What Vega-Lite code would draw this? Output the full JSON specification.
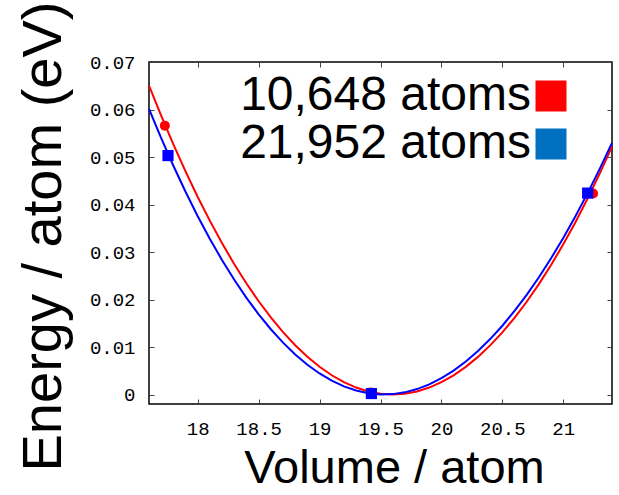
{
  "$schema": "https://vega.github.io/schema/vega-lite/v6.json",
  "autosize": {"type": "none"},
  "width": 463,
  "height": 342,
  "padding": {"left": 149, "top": 62, "right": 7, "bottom": 91},
  "background": "white",
  "datasets": {
    "curves": [
      {"series": "10,648 atoms", "volume": 17.6, "energy": 0.06505},
      {"series": "10,648 atoms", "volume": 17.7, "energy": 0.0587},
      {"series": "10,648 atoms", "volume": 17.8, "energy": 0.05267},
      {"series": "10,648 atoms", "volume": 17.9, "energy": 0.04697},
      {"series": "10,648 atoms", "volume": 18.0, "energy": 0.04159},
      {"series": "10,648 atoms", "volume": 18.1, "energy": 0.03655},
      {"series": "10,648 atoms", "volume": 18.2, "energy": 0.03183},
      {"series": "10,648 atoms", "volume": 18.3, "energy": 0.02744},
      {"series": "10,648 atoms", "volume": 18.4, "energy": 0.02337},
      {"series": "10,648 atoms", "volume": 18.5, "energy": 0.01963},
      {"series": "10,648 atoms", "volume": 18.6, "energy": 0.01622},
      {"series": "10,648 atoms", "volume": 18.7, "energy": 0.01314},
      {"series": "10,648 atoms", "volume": 18.8, "energy": 0.01038},
      {"series": "10,648 atoms", "volume": 18.9, "energy": 0.00794},
      {"series": "10,648 atoms", "volume": 19.0, "energy": 0.00583},
      {"series": "10,648 atoms", "volume": 19.1, "energy": 0.00405},
      {"series": "10,648 atoms", "volume": 19.2, "energy": 0.00259},
      {"series": "10,648 atoms", "volume": 19.3, "energy": 0.00146},
      {"series": "10,648 atoms", "volume": 19.4, "energy": 0.00065},
      {"series": "10,648 atoms", "volume": 19.5, "energy": 0.00016},
      {"series": "10,648 atoms", "volume": 19.6, "energy": 0.0},
      {"series": "10,648 atoms", "volume": 19.7, "energy": 0.00016},
      {"series": "10,648 atoms", "volume": 19.8, "energy": 0.00065},
      {"series": "10,648 atoms", "volume": 19.9, "energy": 0.00146},
      {"series": "10,648 atoms", "volume": 20.0, "energy": 0.00259},
      {"series": "10,648 atoms", "volume": 20.1, "energy": 0.00404},
      {"series": "10,648 atoms", "volume": 20.2, "energy": 0.00582},
      {"series": "10,648 atoms", "volume": 20.3, "energy": 0.00792},
      {"series": "10,648 atoms", "volume": 20.4, "energy": 0.01034},
      {"series": "10,648 atoms", "volume": 20.5, "energy": 0.01308},
      {"series": "10,648 atoms", "volume": 20.6, "energy": 0.01614},
      {"series": "10,648 atoms", "volume": 20.7, "energy": 0.01953},
      {"series": "10,648 atoms", "volume": 20.8, "energy": 0.02324},
      {"series": "10,648 atoms", "volume": 20.9, "energy": 0.02726},
      {"series": "10,648 atoms", "volume": 21.0, "energy": 0.03161},
      {"series": "10,648 atoms", "volume": 21.1, "energy": 0.03628},
      {"series": "10,648 atoms", "volume": 21.2, "energy": 0.04126},
      {"series": "10,648 atoms", "volume": 21.3, "energy": 0.04657},
      {"series": "10,648 atoms", "volume": 21.4, "energy": 0.0522},
      {"series": "21,952 atoms", "volume": 17.6, "energy": 0.06013},
      {"series": "21,952 atoms", "volume": 17.7, "energy": 0.05397},
      {"series": "21,952 atoms", "volume": 17.8, "energy": 0.04816},
      {"series": "21,952 atoms", "volume": 17.9, "energy": 0.04268},
      {"series": "21,952 atoms", "volume": 18.0, "energy": 0.03754},
      {"series": "21,952 atoms", "volume": 18.1, "energy": 0.03274},
      {"series": "21,952 atoms", "volume": 18.2, "energy": 0.02828},
      {"series": "21,952 atoms", "volume": 18.3, "energy": 0.02415},
      {"series": "21,952 atoms", "volume": 18.4, "energy": 0.02035},
      {"series": "21,952 atoms", "volume": 18.5, "energy": 0.01688},
      {"series": "21,952 atoms", "volume": 18.6, "energy": 0.01374},
      {"series": "21,952 atoms", "volume": 18.7, "energy": 0.01092},
      {"series": "21,952 atoms", "volume": 18.8, "energy": 0.00844},
      {"series": "21,952 atoms", "volume": 18.9, "energy": 0.00627},
      {"series": "21,952 atoms", "volume": 19.0, "energy": 0.00443},
      {"series": "21,952 atoms", "volume": 19.1, "energy": 0.00291},
      {"series": "21,952 atoms", "volume": 19.2, "energy": 0.00171},
      {"series": "21,952 atoms", "volume": 19.3, "energy": 0.00083},
      {"series": "21,952 atoms", "volume": 19.4, "energy": 0.00027},
      {"series": "21,952 atoms", "volume": 19.5, "energy": 0.00001},
      {"series": "21,952 atoms", "volume": 19.6, "energy": 0.00008},
      {"series": "21,952 atoms", "volume": 19.7, "energy": 0.00045},
      {"series": "21,952 atoms", "volume": 19.8, "energy": 0.00114},
      {"series": "21,952 atoms", "volume": 19.9, "energy": 0.00213},
      {"series": "21,952 atoms", "volume": 20.0, "energy": 0.00343},
      {"series": "21,952 atoms", "volume": 20.1, "energy": 0.00503},
      {"series": "21,952 atoms", "volume": 20.2, "energy": 0.00694},
      {"series": "21,952 atoms", "volume": 20.3, "energy": 0.00915},
      {"series": "21,952 atoms", "volume": 20.4, "energy": 0.01167},
      {"series": "21,952 atoms", "volume": 20.5, "energy": 0.01448},
      {"series": "21,952 atoms", "volume": 20.6, "energy": 0.01759},
      {"series": "21,952 atoms", "volume": 20.7, "energy": 0.02099},
      {"series": "21,952 atoms", "volume": 20.8, "energy": 0.02469},
      {"series": "21,952 atoms", "volume": 20.9, "energy": 0.02868},
      {"series": "21,952 atoms", "volume": 21.0, "energy": 0.03297},
      {"series": "21,952 atoms", "volume": 21.1, "energy": 0.03754},
      {"series": "21,952 atoms", "volume": 21.2, "energy": 0.0424},
      {"series": "21,952 atoms", "volume": 21.3, "energy": 0.04755},
      {"series": "21,952 atoms", "volume": 21.4, "energy": 0.05298}
    ],
    "points": [
      {"series": "10,648 atoms", "volume": 17.73, "energy": 0.0566},
      {"series": "10,648 atoms", "volume": 19.42, "energy": 0.0004},
      {"series": "10,648 atoms", "volume": 21.245, "energy": 0.0423},
      {"series": "21,952 atoms", "volume": 17.756, "energy": 0.0503},
      {"series": "21,952 atoms", "volume": 19.425, "energy": 0.0002},
      {"series": "21,952 atoms", "volume": 21.2, "energy": 0.0424}
    ]
  },
  "layer": [
    {
      "data": {"name": "curves"},
      "mark": {"type": "line", "strokeWidth": 2},
      "encoding": {
        "x": {
          "field": "volume", "type": "quantitative",
          "scale": {"domain": [17.6, 21.4], "nice": false, "zero": false},
          "axis": {
            "orient": "bottom", "title": "Volume / atom", "values": [18, 18.5, 19, 19.5, 20, 20.5, 21],
            "format": "~g", "labelPadding": 20, "labelDx": 5, "titleFontSize": 47, "titlePadding": 7, "titleX": 245
          }
        },
        "y": {
          "field": "energy", "type": "quantitative",
          "scale": {"domain": [-0.002, 0.07], "nice": false, "zero": false},
          "axis": {
            "orient": "left", "title": "Energy / atom (eV)", "values": [0, 0.01, 0.02, 0.03, 0.04, 0.05, 0.06, 0.07],
            "format": ".2~f", "labelPadding": 19, "titleFontSize": 56, "titlePadding": 17, "titleY": 174
          }
        },
        "color": {
          "field": "series", "type": "nominal",
          "scale": {"domain": ["10,648 atoms", "21,952 atoms"], "range": ["#ff0000", "#0000ff"]},
          "legend": {
            "title": null, "orient": "none", "legendX": 378, "legendY": 10,
            "symbolType": "square", "symbolSize": 961, "symbolStrokeWidth": 0,
            "labelFont": "Liberation Sans", "labelFontSize": 48, "labelColor": "#000",
            "labelAlign": "right", "labelOffset": -44, "labelLimit": 500,
            "rowPadding": 0, "padding": 0,
            "encode": {"symbols": {"update": {
              "fill": [{"test": "datum.value === '10,648 atoms'", "value": "#ff0000"}, {"value": "#0070c0"}],
              "stroke": {"value": "transparent"},
              "opacity": {"value": 1}
            }}}
          }
        }
      }
    },
    {
      "data": {"name": "points"},
      "mark": {"type": "point", "filled": true, "opacity": 1},
      "encoding": {
        "x": {
          "field": "volume", "type": "quantitative",
          "axis": {"orient": "top", "labels": false, "title": null, "values": [18, 18.5, 19, 19.5, 20, 20.5, 21]}
        },
        "y": {
          "field": "energy", "type": "quantitative",
          "axis": {"orient": "right", "labels": false, "title": null, "values": [0, 0.01, 0.02, 0.03, 0.04, 0.05, 0.06, 0.07]}
        },
        "color": {
          "field": "series", "type": "nominal",
          "scale": {"domain": ["10,648 atoms", "21,952 atoms"], "range": ["#ff0000", "#0000ff"]},
          "legend": null
        },
        "shape": {
          "field": "series", "type": "nominal",
          "scale": {"domain": ["10,648 atoms", "21,952 atoms"], "range": ["circle", "square"]},
          "legend": null
        },
        "size": {
          "field": "series", "type": "nominal",
          "scale": {"domain": ["10,648 atoms", "21,952 atoms"], "range": [100, 125]},
          "legend": null
        }
      }
    }
  ],
  "resolve": {"axis": {"x": "independent", "y": "independent"}, "scale": {"color": "independent"}},
  "config": {
    "view": {"stroke": "#000", "strokeWidth": 1.5},
    "axis": {
      "labelFont": "Liberation Mono", "labelFontSize": 19, "labelColor": "#000",
      "tickColor": "#444", "tickSize": -5, "tickWidth": 1, "domain": false, "grid": false,
      "titleFont": "Liberation Sans", "titleFontWeight": "normal", "titleColor": "#000"
    }
  }
}
